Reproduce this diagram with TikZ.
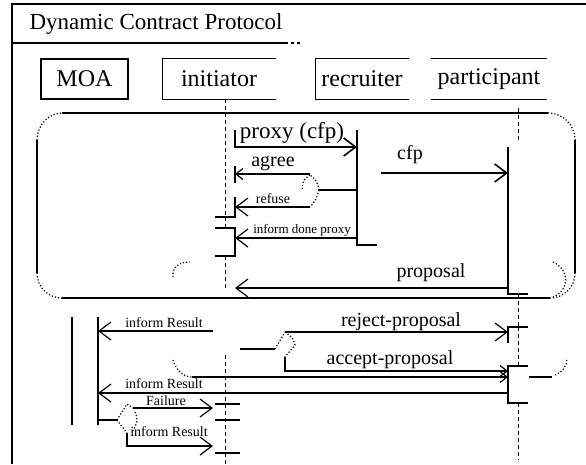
\documentclass[tikz,border=0pt]{standalone}
\usepackage{fontspec}
\setmainfont{Liberation Serif}
\usetikzlibrary{arrows.meta}

\begin{document}
\begin{tikzpicture}[x=1pt,y=-1pt,line width=1.2pt,
			lifebox/.style={inner sep=0pt, minimum height=40pt, font=\fontsize{24}{26}\selectfont},
			msg/.style={-{Straight Barb[length=12pt,width=18pt]}},
			msgsmall/.style={-{Straight Barb[length=7pt,width=11pt]}},
			thickmsg/.style={line width=2.6pt, -{Straight Barb[length=12pt,width=18pt,line width=1.6pt]}},
			lifeline/.style={dash pattern=on 4pt off 3pt, line width=1pt},
			branch/.style={dotted, line width=1.2pt},
			biglbl/.style={inner sep=0pt, font=\fontsize{23}{25}\selectfont},
			midlbl/.style={inner sep=0pt, font=\fontsize{20}{22}\selectfont},
			smalllbl/.style={inner sep=0pt, font=\fontsize{14}{15}\selectfont},
			tinylbl/.style={inner sep=0pt, font=\fontsize{13}{14}\selectfont}
		]

		\useasboundingbox (0,0) rectangle (586,464);

		\draw (12,464) -- (12,4) -- (586,4);
		\draw (12,43) -- (285,43);
		\draw[dashed] (285,43) -- (302,43);
		\node[inner sep=0pt, font=\fontsize{23}{25}\selectfont] (title) at (156,24) {Dynamic Contract Protocol};

		\node[lifebox, minimum width=87pt, draw] (moa) at (84.5,79) {MOA};
		\node[lifebox, minimum width=112pt] (ini) at (219,79) {initiator};
		\draw (ini.north east) -- (ini.north west) -- (ini.south west) -- (ini.south east);
		\node[lifebox, minimum width=92pt] (rec) at (362,79) {recruiter};
		\draw (rec.north east) -- (rec.north west) -- (rec.south west) -- (rec.south east);
		\node[lifebox, minimum width=114pt] (par) at (489,79) {participant};
		\draw (par.north west) -- (par.north east);
		\draw (par.south west) -- (par.south east);

		\draw (62,113) -- (548,113);
		\draw[branch] (548,113) .. controls (563,113) and (575,125) .. (575,140);
		\draw (575,140) -- (575,273);
		\draw[branch] (575,273) .. controls (575,288) and (563,298) .. (550,298);
		\draw (62,298) -- (550,298);
		\draw[branch] (37,273) .. controls (37,288) and (49,298) .. (62,298);
		\draw (37,140) -- (37,273);
		\draw[branch] (37,140) .. controls (37,125) and (49,113) .. (62,113);
		\draw[branch] (173,277) .. controls (172,266) and (180,262) .. (190,262);
		\draw[branch] (553,262) .. controls (570,270) and (570,290) .. (553,297);

		\draw[lifeline] (225,99) -- (225,217);
		\draw (215,217) -- (235,217) -- (235,197);
		\draw[lifeline] (225,217) -- (225,228);
		\draw (215,228) -- (235,228) -- (235,256) -- (215,256);
		\draw[lifeline] (225,256) -- (225,288);
		\draw (235,130) -- (235,148);
		\draw (235,166) -- (235,183);

		\draw (357,130) -- (357,245) -- (377,245);

		\draw[lifeline] (518,108) -- (518,143);
		\draw (508,147) -- (508,294) -- (528,294);
		\draw[lifeline] (518,294) -- (518,327);
		\draw (528,327) -- (508,327) -- (508,343);
		\draw[lifeline] (518,327) -- (518,366);
		\draw (528,366) -- (508,366) -- (508,403) -- (528,403);
		\draw[lifeline] (518,403) -- (518,460);

		\draw[lifeline] (225,355) -- (225,464);
		\draw (215,404) -- (240,404);
		\draw (215,420) -- (240,420);
		\draw (215,453) -- (240,453);

		\coordinate (proxyS) at (235,147);
		\coordinate (proxyE) at (357,147);
		\coordinate (cfpS) at (381,173);
		\coordinate (cfpE) at (508,173);
		\coordinate (recBr) at (357,190);
		\coordinate (brR) at (319,190);
		\coordinate (brTop) at (310,175);
		\coordinate (brBot) at (310,207);
		\coordinate (agreeE) at (235,174);
		\coordinate (refuseE) at (235,207);
		\coordinate (doneS) at (357,238);
		\coordinate (doneE) at (235,238);
		\coordinate (propS) at (508,288);
		\coordinate (propE) at (235,288);

		\draw[thickmsg] (proxyS) -- (proxyE);
		\node[biglbl] (proxyL) at (292,133) {proxy (cfp)};
		\draw[thickmsg] (cfpS) -- (cfpE);
		\node[midlbl] (cfpL) at (410,155) {cfp};
		\draw (recBr) -- (brR);
		\draw[branch] (brR) .. controls (317,181) .. (brTop);
		\draw[branch] (brTop) .. controls (303,180) .. (302,190);
		\draw[branch] (brR) .. controls (316,200) .. (brBot);
		\draw[msgsmall] (310,174) -- (agreeE);
		\node[midlbl] (agreeL) at (273,164) {agree};
		\draw[msg] (brBot) -- (refuseE);
		\node[smalllbl] (refuseL) at (273,199) {refuse};
		\draw[msg] (doneS) -- (doneE);
		\node[tinylbl] (doneL) at (302,230) {inform done proxy};
		\draw[msg] (propS) -- (propE);
		\node[midlbl] (propL) at (431,273) {proposal};

		\draw (72,317) -- (72,425);
		\draw (98,317) -- (98,425);

		\coordinate (res1S) at (213,331);
		\coordinate (res1E) at (98,331);
		\coordinate (rejA) at (240,349);
		\coordinate (rejL) at (275,349);
		\coordinate (rejT) at (285,332);
		\coordinate (rejE) at (508,332);
		\coordinate (accS) at (285,357);
		\coordinate (accC) at (285,371);
		\coordinate (accE) at (508,371);
		\coordinate (acc2S) at (192,377);
		\coordinate (acc2E) at (508,377);
		\coordinate (res2S) at (508,393);
		\coordinate (res2E) at (98,393);
		\coordinate (moaBr) at (98,420);
		\coordinate (dL) at (117,420);
		\coordinate (dT) at (127,404);
		\coordinate (dB) at (127,433);
		\coordinate (failS) at (133,408);
		\coordinate (failE) at (213,408);
		\coordinate (res3C) at (127,446);
		\coordinate (res3E) at (213,446);

		\draw[msg] (res1S) -- (res1E);
		\node[smalllbl] (res1L) at (164,323) {inform Result};
		\draw (rejA) -- (rejL);
		\draw[branch] (rejL) -- (rejT);
		\draw[branch] (rejT) .. controls (293,338) .. (295,345) -- (accS);
		\draw[msg] (rejT) -- (rejE);
		\node[midlbl] (rejLbl) at (401,322) {reject-proposal};
		\draw[msgsmall] (accS) -- (accC) -- (accE);
		\node[midlbl] (accL) at (390,360) {accept-proposal};
		\draw[branch] (173,360) .. controls (176,370) and (183,377) .. (acc2S);
		\draw[msgsmall] (acc2S) -- (acc2E);
		\draw (529,377) -- (552,377);
		\draw[branch] (555,375) .. controls (563,372) and (567,366) .. (567,358);
		\draw[msg] (res2S) -- (res2E);
		\node[smalllbl] (res2L) at (164,384) {inform Result};
		\draw (moaBr) -- (dL);
		\draw[branch] (dL) -- (dT) -- (failS);
		\draw[branch] (dL) -- (dB);
		\draw[branch] (135,412) .. controls (138,420) .. (133,431);
		\draw[msg] (failS) -- (failE);
		\node[smalllbl] (failL) at (166,401) {Failure};
		\draw[msg] (dB) -- (res3C) -- (res3E);
		\node[smalllbl] (res3L) at (169,432) {inform Result};

	\end{tikzpicture}
\end{document}
